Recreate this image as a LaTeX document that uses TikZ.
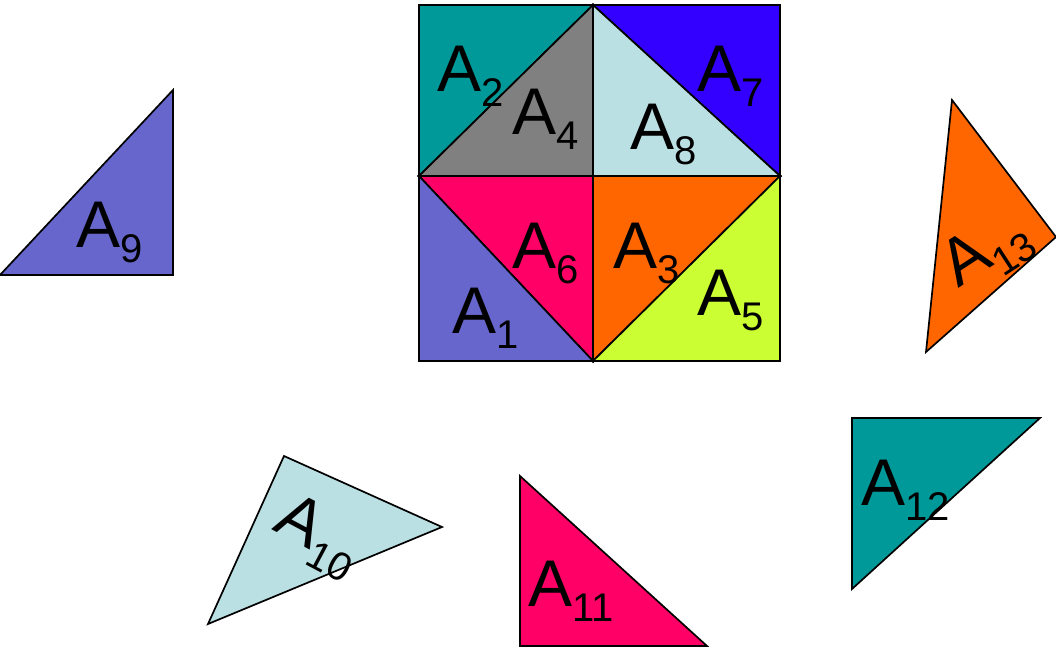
\documentclass[tikz,border=0pt]{standalone}
\usepackage{fontspec}
\setmainfont{Liberation Sans}
\usetikzlibrary{positioning}
\definecolor{tealpc}{HTML}{009999}
\definecolor{graypc}{HTML}{808080}
\definecolor{bluepc}{HTML}{3300FF}
\definecolor{icepc}{HTML}{BBE0E3}
\definecolor{pinkpc}{HTML}{FF0066}
\definecolor{orangepc}{HTML}{FF6600}
\definecolor{limepc}{HTML}{CCFF33}
\definecolor{violetpc}{HTML}{6666CC}
\newcommand{\alab}[1]{A\raisebox{-15bp}{\fontsize{40bp}{40bp}\selectfont #1}}

\begin{document}
\begin{tikzpicture}[
      x=1bp, y=-1bp,
      every node/.style={font=\fontsize{66bp}{70bp}\selectfont, inner sep=0pt},
      piece/.style={draw=black, line width=1.7bp, fill=#1},
      tag/.style={anchor=base west},
    ]
    \useasboundingbox (0,0) rectangle (1056,649);
    % corners of the big square
    \coordinate (tl) at (419,5);   \coordinate (tm) at (593,5);   \coordinate (tr) at (780,5);
    \coordinate (ml) at (419,176); \coordinate (c)  at (593,176); \coordinate (mr) at (780,176);
    \coordinate (bl) at (419,361); \coordinate (bm) at (593,361); \coordinate (br) at (780,361);

    \filldraw[piece=tealpc]   (tl) -- (tm) -- (ml) -- cycle;
    \filldraw[piece=graypc]   (tm) -- (c) -- (ml) -- cycle;
    \filldraw[piece=bluepc]   (tm) -- (tr) -- (mr) -- cycle;
    \filldraw[piece=icepc]    (tm) -- (mr) -- (c) -- cycle;
    \filldraw[piece=pinkpc]   (ml) -- (c) -- (bm) -- cycle;
    \filldraw[piece=violetpc] (ml) -- (bm) -- (bl) -- cycle;
    \filldraw[piece=orangepc] (c) -- (mr) -- (bm) -- cycle;
    \filldraw[piece=limepc]   (mr) -- (br) -- (bm) -- cycle;

    \node[tag] (a2) at (437,92)  {\alab{2}};
    \node[tag] (a4) at (512,135) {\alab{4}};
    \node[tag] (a7) at (697,92)  {\alab{7}};
    \node[tag] (a8) at (630,150) {\alab{8}};
    \node[tag] (a6) at (512,268) {\alab{6}};
    \node[tag] (a3) at (613,268) {\alab{3}};
    \node[tag] (a5) at (697,315) {\alab{5}};
    \node[tag] (a1) at (452,333) {\alab{1}};

    % loose pieces
    \filldraw[piece=violetpc] (0,275) -- (173,90) -- (173,275) -- cycle;
    \node[tag] (a9) at (76,247) {\alab{9}};

    \filldraw[piece=icepc] (284,456) -- (442,527) -- (208,624) -- cycle;
    \node[rotate=-28] (a10) at (318,537) {\alab{10}};

    \filldraw[piece=pinkpc] (520,476) -- (707,646) -- (520,646) -- cycle;
    \node[tag] (a11) at (528,606) {\alab{11}};

    \filldraw[piece=tealpc] (852,418) -- (1040,418) -- (852,589) -- cycle;
    \node[tag] (a12) at (861,505) {\alab{12}};

    \filldraw[piece=orangepc] (952,100) -- (1056,237) -- (926,352) -- cycle;
    \node[rotate=33] (a13) at (987,252) {\alab{13}};
  \end{tikzpicture}
\end{document}
